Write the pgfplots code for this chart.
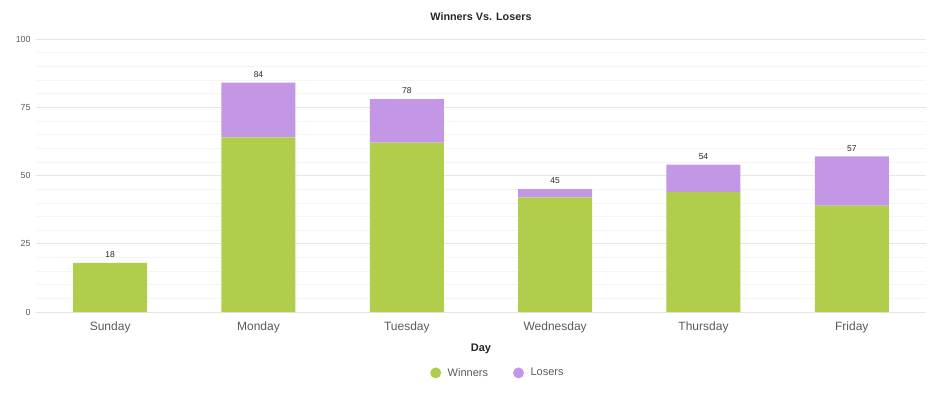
\documentclass[border=0pt]{standalone}
\usepackage{pgfplots}
\pgfplotsset{compat=1.18}
\usepackage{fontspec}
\setmainfont{Liberation Sans}
\definecolor{winc}{RGB}{176,206,76}
\definecolor{losc}{RGB}{195,151,229}
\definecolor{majg}{RGB}{230,230,230}
\definecolor{ming}{RGB}{245,245,245}
\definecolor{tickc}{RGB}{90,90,90}
\pgfplotsset{
  commonax/.style={
    at={(0,0)}, anchor=south west,
    scale only axis, width=890pt, height=273pt,
    xmin=-0.5, xmax=5.5, ymin=0, ymax=100,
    /pgf/number format/assume math mode=true,
  }
}
\begin{document}
\begin{tikzpicture}[x=1pt,y=1pt]
\useasboundingbox (-36,-82) rectangle (894,312);
\begin{axis}[
  commonax,
  ybar stacked, bar width=74pt,
  xtick={0,1,2,3,4,5},
  xticklabels={Sunday,Monday,Tuesday,Wednesday,Thursday,Friday},
  ytick={0,25,50,75,100},
  minor ytick={5,10,15,20,30,35,40,45,55,60,65,70,80,85,90,95},
  ymajorgrids, yminorgrids,
  major grid style={draw=majg, line width=0.7pt},
  minor grid style={draw=ming, line width=0.6pt},
  axis line style={draw=none},
  major tick length=0pt, minor tick length=0pt,
  x tick label style={font=\fontsize{12}{14}\selectfont, text=tickc, yshift=-6pt},
  y tick label style={font=\fontsize{8.8}{10}\selectfont, text=tickc, xshift=-2pt},
  xlabel={Day},
  xlabel style={font=\fontsize{11}{13}\selectfont\bfseries, text=black!85, at={(axis description cs:0.5,0)}, anchor=center, yshift=-37pt},
  title={Winners Vs. Losers},
  title style={font=\fontsize{10.8}{12}\selectfont\bfseries, text=black!85, at={(axis description cs:0.5,1)}, anchor=center, yshift=16pt},
  legend columns=2,
  legend style={draw=none, fill=none, at={(axis description cs:0.4427,-0.223)}, anchor=west,
    inner sep=0pt, font=\fontsize{11}{13}\selectfont, text=tickc,
    nodes={inner sep=1pt},
    /tikz/every even column/.append style={column sep=24pt}},
  legend image code/.code={\fill[#1] (0pt,0pt) circle (5.5pt); \path (-5.5pt,0) -- (11pt,0);},
  every axis plot/.append style={draw=none},
]
\addplot[fill=winc] coordinates {(0,18) (1,64) (2,62) (3,42) (4,44) (5,39)};
\addlegendentry{Winners}
\addplot[fill=losc] coordinates {(0,0) (1,20) (2,16) (3,3) (4,10) (5,18)};
\addlegendentry{Losers}
\end{axis}
\begin{axis}[
  commonax, hide axis,
]
\addplot[only marks, mark=none, nodes near coords, point meta=y,
  every node near coord/.append style={font=\fontsize{8.5}{10}\selectfont, text=black!85, anchor=south, inner sep=0pt, yshift=5pt}]
  coordinates {(0,18) (1,84) (2,78) (3,45) (4,54) (5,57)};
\end{axis}
\end{tikzpicture}
\end{document}
